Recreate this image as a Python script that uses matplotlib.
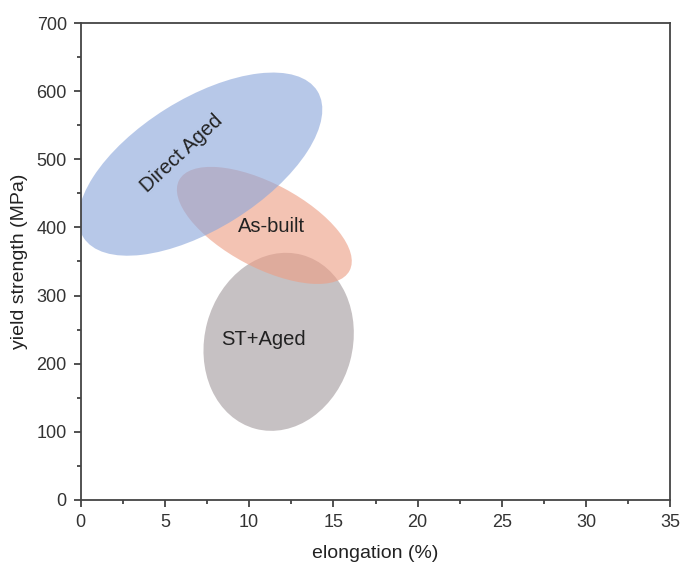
import matplotlib.pyplot as plt
from matplotlib.patches import Ellipse
from matplotlib.transforms import ScaledTranslation
from matplotlib.ticker import MultipleLocator

plt.rcParams['font.family'] = ['Liberation Sans', 'DejaVu Sans']

# regions: centre (elongation %, yield strength MPa), size in inches, tilt in degrees
names = ['ST+Aged', 'As-built', 'Direct Aged']
center_x = [11.75, 10.9, 7.1]
center_y = [232, 403, 493]
width_in = [1.80, 1.93, 2.76]
height_in = [1.48, 0.84, 1.30]
angle = [75, -28, 32]
colors = ['#a49b9e', '#ed9e85', '#8ca7db']

label_x = [10.85, 11.3, 6.0]
label_y = [235, 402, 508]
label_rot = [0, 0, 43]

fig = plt.figure(figsize=(6.84, 5.66), dpi=100)
ax = fig.add_axes([0.118, 0.117, 0.862, 0.842])
ax.set_xlim(0, 35)
ax.set_ylim(0, 700)

for cx, cy, w, h, a, c in zip(center_x, center_y, width_in, height_in, angle, colors):
    tr = fig.dpi_scale_trans + ScaledTranslation(cx, cy, ax.transData)
    e = Ellipse((0, 0), w, h, angle=a, transform=tr, facecolor=c,
                edgecolor='none', alpha=0.62)
    ax.add_patch(e)

for n, x, y, r in zip(names, label_x, label_y, label_rot):
    ax.text(x, y, n, rotation=r, ha='center', va='center', fontsize=14.5,
            color='#222222', rotation_mode='anchor')

ax.xaxis.set_major_locator(MultipleLocator(5))
ax.xaxis.set_minor_locator(MultipleLocator(2.5))
ax.yaxis.set_major_locator(MultipleLocator(100))
ax.yaxis.set_minor_locator(MultipleLocator(50))
ax.tick_params(which='major', direction='out', length=5, width=1.2,
               labelsize=13, colors='#333333', pad=5)
ax.tick_params(which='minor', direction='out', length=3, width=1.2,
               colors='#333333')
for s in ax.spines.values():
    s.set_color('#444444')
    s.set_linewidth(1.3)

ax.set_xlabel('elongation (%)', fontsize=14, color='#222222', labelpad=10)
ax.set_ylabel('yield strength (MPa)', fontsize=14, color='#222222', labelpad=6)

fig.savefig('out.png', dpi=100)
